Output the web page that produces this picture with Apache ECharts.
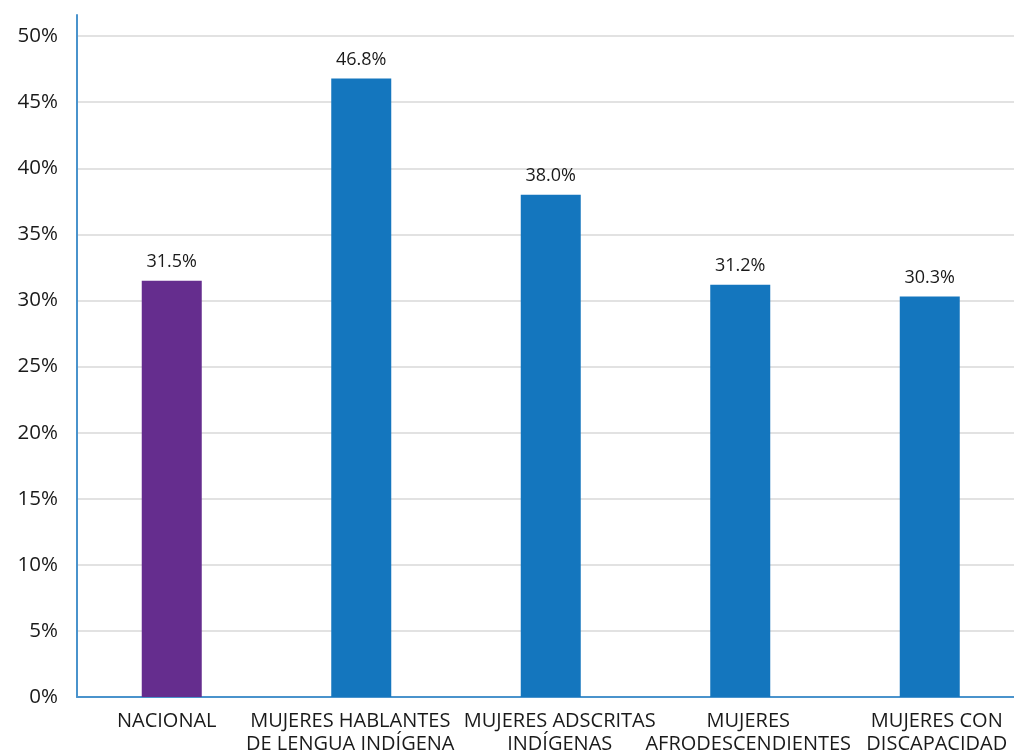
<!DOCTYPE html>
<html>
<head>
<meta charset="utf-8">
<script src="https://cdn.jsdelivr.net/npm/echarts@6/dist/echarts.min.js"></script>
<style>
html,body{margin:0;padding:0;background:#fff;}
#chart{width:1014px;height:756px;}
</style>
</head>
<body>
<div id="chart"></div>
<script>
var categories = ['NACIONAL', 'MUJERES HABLANTES\nDE LENGUA INDÍGENA', 'MUJERES ADSCRITAS\nINDÍGENAS', 'MUJERES\nAFRODESCENDIENTES', 'MUJERES CON\nDISCAPACIDAD'];
var values = [31.5, 46.8, 38.0, 31.2, 30.3];
var barColors = ['#652D8E', '#1476BE', '#1476BE', '#1476BE', '#1476BE'];
// small horizontal nudges (px) of the category label text boxes, as in the source
var labelNudge = [-5, -11, 9, 8, 7];

var FONT = 'Open Sans';
var rich = {};
labelNudge.forEach(function (n, i) {
  rich['c' + i] = {
    fontSize: 20, fontFamily: FONT, color: '#1a1a1a', lineHeight: 23,
    padding: n >= 0 ? [0, 0, 0, 2 * n] : [0, -2 * n, 0, 0]
  };
});

var chart = echarts.init(document.getElementById('chart'), null, {renderer: 'canvas'});
chart.setOption({
  animation: false,
  backgroundColor: '#fff',
  grid: {left: 77, width: 947.5, top: 15, bottom: 59, containLabel: false, outerBoundsMode: 'none'},
  xAxis: {
    type: 'category',
    data: categories,
    axisLine: {show: true, lineStyle: {color: '#4A93CC', width: 2}},
    axisTick: {show: false},
    axisLabel: {
      interval: 0, color: '#1a1a1a', fontSize: 20, fontFamily: FONT, margin: 13, lineHeight: 23,
      formatter: function (v, i) {
        return v.split('\n').map(function (s) { return '{c' + i + '|' + s + '}'; }).join('\n');
      },
      rich: rich
    }
  },
  yAxis: {
    type: 'value',
    min: 0, max: 51.6, interval: 5,
    axisLine: {show: true, lineStyle: {color: '#4A93CC', width: 2}},
    axisTick: {show: false},
    splitLine: {show: true, showMaxLine: false, lineStyle: {color: '#D9D9D9', width: 1.5}},
    axisLabel: {
      color: '#1a1a1a', fontSize: 20.5, fontFamily: FONT, margin: 19,
      formatter: function (v) { return (Math.abs(v % 5) < 1e-6) ? v + '%' : ''; }
    }
  },
  series: [{
    type: 'bar',
    data: values.map(function (v, i) { return {value: v, itemStyle: {color: barColors[i]}}; }),
    barWidth: 60,
    label: {
      show: true, position: 'top', distance: 10,
      color: '#1a1a1a', fontSize: 18, fontFamily: FONT,
      formatter: function (p) { return p.value.toFixed(1) + '%'; }
    }
  }]
});
</script>
</body>
</html>
